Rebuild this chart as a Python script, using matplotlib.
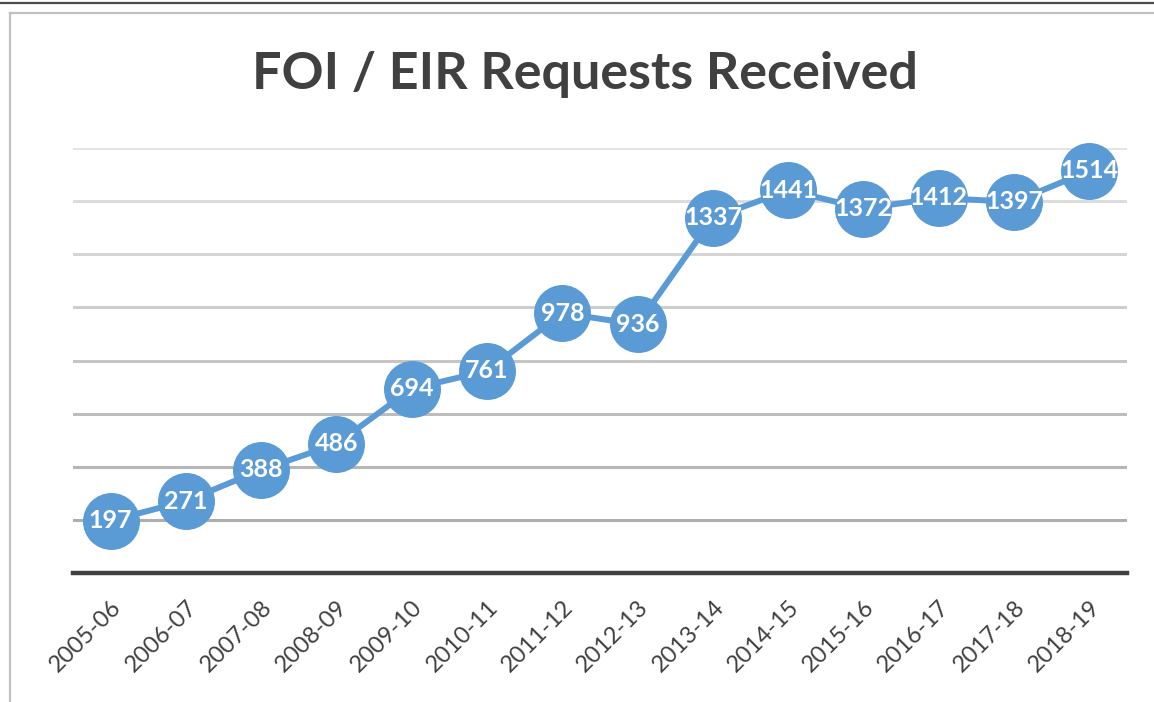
import matplotlib
matplotlib.use("Agg")
import matplotlib.pyplot as plt
from matplotlib.lines import Line2D
import numpy as np

years = ["2005-06", "2006-07", "2007-08", "2008-09", "2009-10", "2010-11", "2011-12",
         "2012-13", "2013-14", "2014-15", "2015-16", "2016-17", "2017-18", "2018-19"]
requests = [197, 271, 388, 486, 694, 761, 978, 936, 1337, 1441, 1372, 1412, 1397, 1514]
y_ticks = [0, 200, 400, 600, 800, 1000, 1200, 1400, 1600]

W, H = 1154, 702
fig = plt.figure(figsize=(W / 100, H / 100), dpi=100)
fig.patch.set_facecolor("white")

# frame decorations
fig.add_artist(Line2D([0, 1], [1 - 3 / H, 1 - 3 / H], color="#4a4a4a", lw=1.6, transform=fig.transFigure))
fig.add_artist(Line2D([10 / W, 1], [1 - 13 / H, 1 - 13 / H], color="#c0c0c0", lw=1.6, transform=fig.transFigure))
fig.add_artist(Line2D([10 / W, 10 / W], [0, 1 - 13 / H], color="#c0c0c0", lw=1.6, transform=fig.transFigure))

left, right = 73 / W, 1127 / W
bottom, top = 1 - 573 / H, 1 - 148 / H
ax = fig.add_axes([left, bottom, right - left, top - bottom])

x = np.arange(len(years))
ax.plot(x, requests, color="#5b9bd5", lw=4.3, marker="o", markersize=40,
        markerfacecolor="#5b9bd5", markeredgecolor="#5b9bd5", clip_on=False, zorder=3)
for xi, v in zip(x, requests):
    ax.text(xi, v, str(v), ha="center", va="center", color="white",
            fontsize=18, fontweight="bold", family="Lato", zorder=4, clip_on=False)

ax.set_xlim(-0.5, len(years) - 0.5)
ax.set_ylim(0, 1600)
ax.set_yticks(y_ticks)
ax.set_yticklabels([])
ax.tick_params(axis="y", length=0)
ax.set_xticks(x)
ax.set_xticklabels(years, rotation=45, ha="right", va="top", rotation_mode="anchor",
                   fontsize=17, family="Lato", color="#404040")
ax.tick_params(axis="x", length=0, pad=17)

ax.grid(axis="y", lw=2.2, zorder=0)
glines = ax.get_ygridlines()
for i, gl in enumerate(glines):
    t = i / (len(glines) - 1)
    c = np.array([0xa6, 0xa6, 0xa6]) * (1 - t) + np.array([0xe4, 0xe4, 0xe4]) * t
    gl.set_color(c / 255)
ax.set_axisbelow(True)

for s in ["top", "right", "left"]:
    ax.spines[s].set_visible(False)
ax.spines["bottom"].set_color("#404040")
ax.spines["bottom"].set_linewidth(3.2)

fig.text(585 / W, 1 - 75 / H, "FOI / EIR Requests Received", ha="center", va="center",
         fontsize=37.5, fontweight="bold", family="Lato", color="#404040")

fig.savefig("out.png", dpi=100)
